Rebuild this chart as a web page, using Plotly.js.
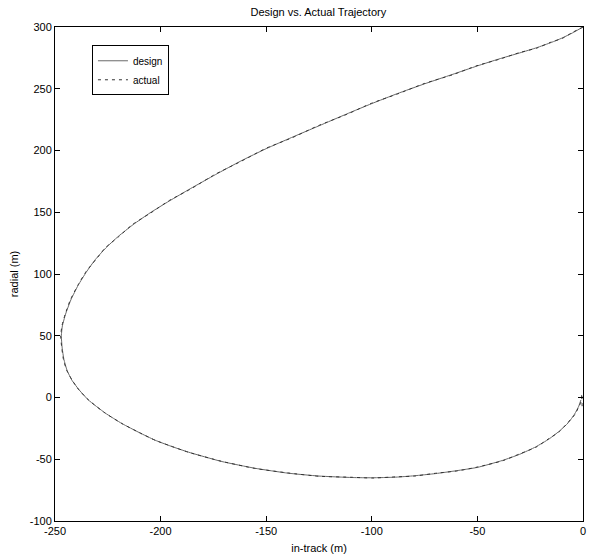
<!DOCTYPE html>
<html>
<head>
<meta charset="utf-8">
<script src="https://cdn.plot.ly/plotly-3.0.1.min.js"></script>
<style>html,body{margin:0;padding:0;background:#fff;}#chart{width:595px;height:560px;}</style>
</head>
<body>
<div id="chart"></div>
<script>
var designX = [0, -5, -10, -15, -22, -30, -40, -50, -62, -75, -88, -100, -112, -125, -138, -150, -162, -174, -186, -196, -205, -213, -220, -226, -231, -235, -239, -242.5, -245, -246.5, -247,
               -246.6, -245.8, -244.3, -242, -238.5, -234.2, -226.3, -218.4, -210, -202.7, -195, -186.9, -171.1, -155.3, -139.5, -125, -109.2, -100, -88.7, -80, -69.8, -60, -50, -38.2, -30, -22.4, -16, -11.4, -7, -4, -2, -1];
var designY = [300, 295.2, 291, 287.5, 283.2, 279, 274, 268.5, 261.5, 254, 246, 238, 229.5, 220, 210.5, 201.5, 191.5, 180.5, 169, 159, 149.5, 140, 130.5, 121, 111.5, 102, 91, 79, 67.5, 58, 50,
               40, 31, 22, 14, 6, -2, -12.5, -21, -28.5, -34.5, -39.5, -44.2, -51.8, -57.3, -61.3, -63.6, -64.8, -65, -64.5, -63.4, -61.6, -59.3, -56.6, -51, -46, -40, -33.5, -27.5, -20.5, -13.5, -7, -2];
var actualX = [0, -5.2, -9.8, -15.2, -21.8, -30.2, -39.8, -50.2, -61.8, -75.2, -87.8, -100.2, -111.8, -125.2, -137.8, -150.2, -161.8, -174.2, -185.8, -196.2, -204.8, -213.2, -219.8, -226.2, -230.8, -235.2, -239.2, -242.7, -245.2, -246.7, -247.3,
               -246.8, -246, -244.5, -241.8, -238.7, -234.0, -226.5, -218.2, -210.2, -202.5, -195.2, -186.7, -171.3, -155.1, -139.7, -124.8, -109.4, -99.8, -88.9, -79.8, -70, -59.8, -50.2, -38, -30.2, -22.2, -16.2, -11.2, -7.2, -3.8, -1.8, -0.8, -0.6, -0.4];
var actualY = [300, 295.4, 290.8, 287.7, 283, 279.2, 273.8, 268.7, 261.3, 254.2, 245.8, 238.2, 229.3, 220.2, 210.3, 201.7, 191.3, 180.7, 168.8, 159.2, 149.3, 140.2, 130.3, 121.2, 111.3, 102.2, 90.8, 79.2, 67.3, 58.2, 49.8,
               40.2, 30.8, 22.2, 13.8, 6.2, -2.2, -12.3, -21.2, -28.3, -34.7, -39.3, -44.4, -51.6, -57.5, -61.1, -63.8, -64.6, -65.2, -64.3, -63.6, -61.4, -59.5, -56.4, -51.2, -45.8, -40.2, -33.3, -27.7, -20.3, -13.7, -6.8, -3, 3, -8];
var xTicks = [-250, -200, -150, -100, -50, 0];
var yTicks = [-100, -50, 0, 50, 100, 150, 200, 250, 300];

var font = {family: '"Liberation Sans", Arial, sans-serif', size: 11, color: '#000'};

var traces = [
  {x: designX, y: designY, name: 'design', type: 'scatter', mode: 'lines',
   line: {color: '#6a6a6a', width: 1, shape: 'spline', smoothing: 0.5}},
  {x: actualX, y: actualY, name: 'actual', type: 'scatter', mode: 'lines',
   line: {color: '#333', width: 1, dash: '3px,4px', shape: 'spline', smoothing: 0.5}}
];

var layout = {
  width: 595, height: 560,
  margin: {l: 55, r: 12, t: 27, b: 39},
  paper_bgcolor: '#fff', plot_bgcolor: '#fff',
  font: font,
  showlegend: true,
  title: {text: 'Design vs. Actual Trajectory', font: {family: font.family, size: 11, color: '#000'},
          x: 0.535, xanchor: 'center', y: 0.985, yanchor: 'top'},
  xaxis: {
    range: [-250, 0], tickvals: xTicks, ticktext: xTicks.map(String),
    showgrid: false, zeroline: false, showline: true, linecolor: '#000', linewidth: 1,
    mirror: 'ticks', ticks: 'inside', ticklen: 5, tickcolor: '#000',
    tickfont: font,
    title: {text: 'in-track (m)', font: font, standoff: 8}
  },
  yaxis: {
    range: [-100, 300], tickvals: yTicks, ticktext: yTicks.map(String),
    showgrid: false, zeroline: false, showline: true, linecolor: '#000', linewidth: 1,
    mirror: 'ticks', ticks: 'inside', ticklen: 5, tickcolor: '#000',
    tickfont: font,
    title: {text: 'radial (m)', font: font, standoff: 8}
  },
  legend: {
    x: 0.07, y: 0.963, xanchor: 'left', yanchor: 'top',
    bgcolor: '#fff', bordercolor: '#000', borderwidth: 1,
    font: {family: font.family, size: 10, color: '#000'},
    tracegroupgap: 0, itemwidth: 30
  }
};

Plotly.newPlot('chart', traces, layout, {staticPlot: true, displayModeBar: false});
</script>
</body>
</html>
